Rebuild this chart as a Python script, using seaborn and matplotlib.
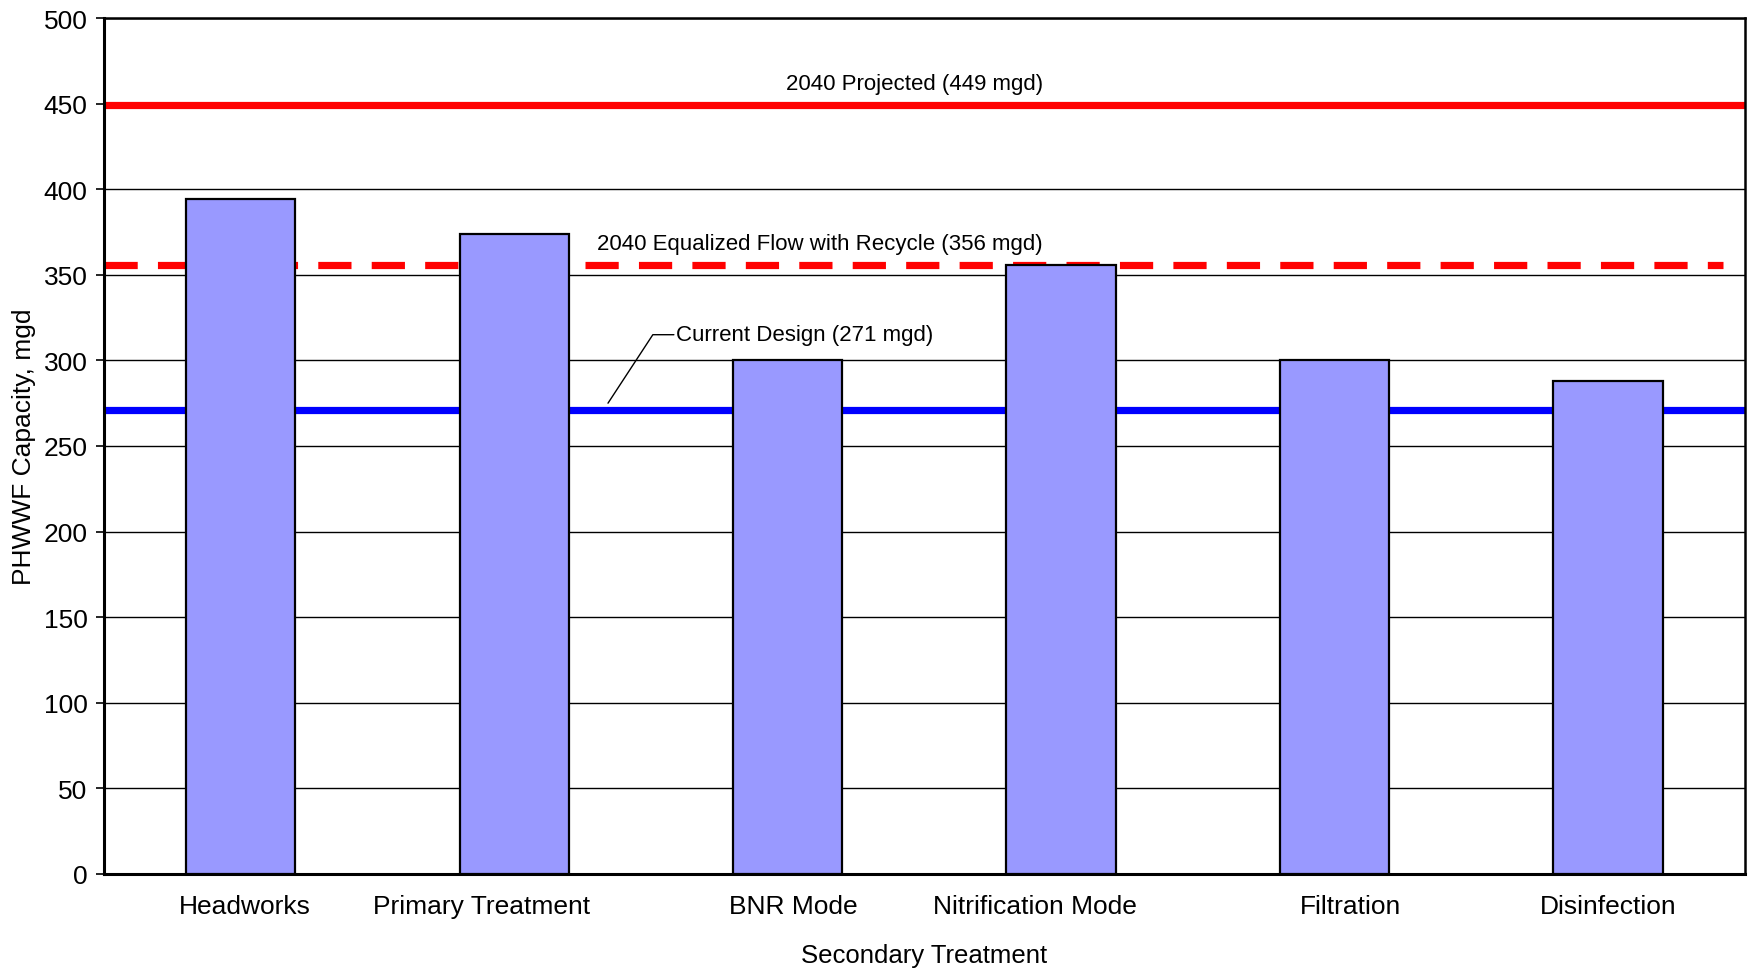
import matplotlib
matplotlib.use("Agg")
import matplotlib.pyplot as plt
import seaborn as sns
import pandas as pd

# Process capacities (mgd)
categories = ["Headworks", "Primary Treatment", "BNR Mode", "Nitrification Mode",
              "Filtration", "Disinfection"]
capacity = [394, 374, 300, 356, 300, 288]

# Reference flows (mgd)
projected_2040 = 449
equalized_2040 = 356
current_design = 271

# Small horizontal nudges of the category labels (in category units)
label_shift = [0.016, -0.12, 0.02, -0.094, 0.06, 0.0]

y_ticks = [0, 50, 100, 150, 200, 250, 300, 350, 400, 450, 500]

sns.set_theme(style="white")
plt.rcParams["font.family"] = ["Liberation Sans", "DejaVu Sans"]
plt.rcParams.update({"text.color": "black", "axes.labelcolor": "black",
                     "xtick.color": "black", "ytick.color": "black"})

df = pd.DataFrame({"process": categories, "capacity": capacity})

fig = plt.figure(figsize=(17.49, 9.70), dpi=100)
ax = fig.add_axes([0.0595, 0.098, 0.938, 0.8824])

# Horizontal gridlines behind everything
ax.set_axisbelow(True)
ax.yaxis.grid(True, color="black", linewidth=1.0)

# Flow reference lines (drawn beneath the bars)
ax.axhline(projected_2040, color="#FF0000", linewidth=5.2, zorder=1.5)
ax.axhline(equalized_2040, color="#FF0000", linewidth=5.2, zorder=1.5,
           xmax=0.987, dashes=(4.6, 2.8))
ax.axhline(current_design, color="#0000FF", linewidth=5.2, zorder=1.5)

sns.barplot(data=df, x="process", y="capacity", ax=ax, color="#9999FF",
            saturation=1, width=0.4, edgecolor="black", linewidth=1.6,
            zorder=3)

ax.set_xlim(-0.5, len(categories) - 0.5)
ax.set_ylim(0, 500)
ax.set_yticks(y_ticks)
ax.tick_params(axis="y", labelsize=19, length=6, width=1.2, direction="out",
               left=True, pad=6, colors="black")
ax.set_xticks(range(len(categories)))
ax.set_xticklabels([])
ax.tick_params(axis="x", length=0)

# Category labels
for i, (name, dx) in enumerate(zip(categories, label_shift)):
    ax.text(i + dx, -19, name, ha="center", va="center", fontsize=19)

# Group label under the two secondary-treatment modes
ax.text(2.5, -47.5, "Secondary Treatment", ha="center", va="center",
        fontsize=18.5)

ax.set_xlabel("")
ax.set_ylabel("PHWWF Capacity, mgd", fontsize=19, labelpad=5)

for side in ["left", "bottom"]:
    ax.spines[side].set_linewidth(2.2)
for side in ["top", "right"]:
    ax.spines[side].set_linewidth(1.8)
for s in ax.spines.values():
    s.set_color("black")
    s.set_visible(True)

# Line annotations
ax.text(2.934, 462, "2040 Projected (449 mgd)", ha="right", va="center",
        fontsize=16)
ax.text(2.934, 368, "2040 Equalized Flow with Recycle (356 mgd)", ha="right",
        va="center", fontsize=16)
ax.text(1.59, 315, "Current Design (271 mgd)", ha="left", va="center",
        fontsize=16)
ax.plot([1.343, 1.507, 1.584], [275, 315, 315], color="black", linewidth=1.0,
        zorder=4)

fig.savefig("out.png", dpi=100)
